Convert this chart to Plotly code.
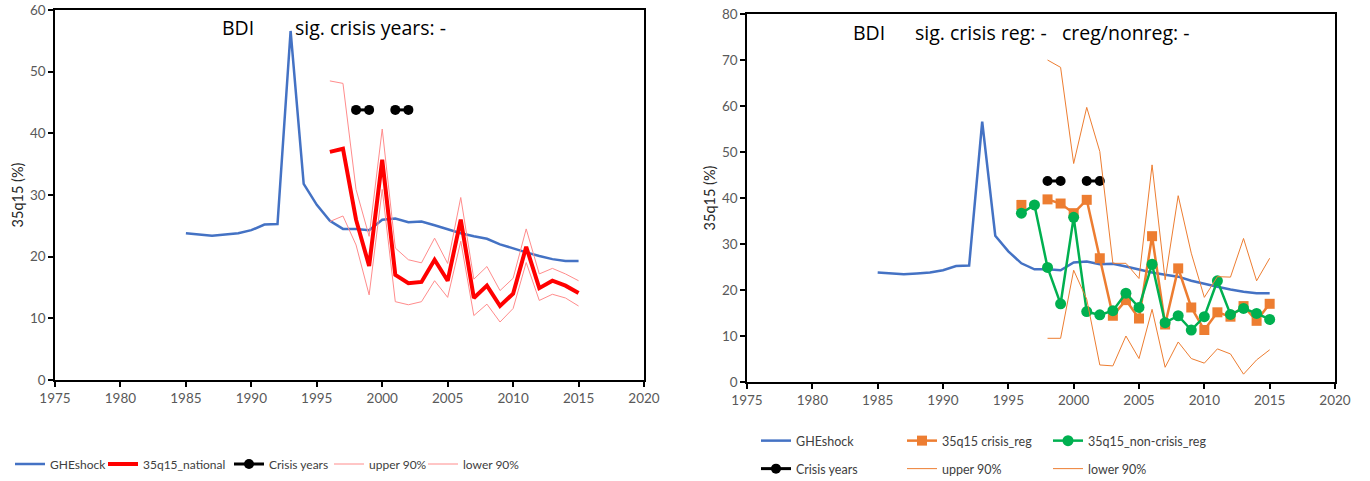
import plotly.graph_objects as go

# ---- data ----
years_ghe = list(range(1985, 2016))
ghe_shock = [23.8, 23.6, 23.4, 23.6, 23.8, 24.3, 25.2, 25.3, 56.6, 31.8, 28.4, 25.8,
             24.5, 24.5, 24.3, 26.0, 26.2, 25.6, 25.7, 25.1, 24.4, 23.8, 23.3, 22.9,
             22.0, 21.3, 20.7, 20.1, 19.6, 19.3, 19.3]

years_est = list(range(1996, 2016))
national = [37.0, 37.5, 26.0, 18.5, 35.7, 17.05, 15.7, 15.9, 19.5, 16.1,
            26.0, 13.3, 15.3, 12.0, 14.0, 21.6, 14.9, 16.1, 15.3, 14.1]
national_upper = [48.5, 48.1, 30.9, 23.3, 40.7, 21.4, 19.5, 19.0, 23.0, 18.9,
                  29.6, 16.35, 18.4, 14.5, 16.5, 24.5, 17.2, 18.1, 17.2, 16.1]
national_lower = [25.7, 26.6, 21.9, 13.8, 30.9, 12.7, 12.2, 12.7, 16.1, 13.4,
                  22.5, 10.45, 12.3, 9.4, 11.6, 19.05, 12.9, 13.9, 13.3, 12.0]

crisis_reg = [38.5, None, 39.7, 38.8, 36.7, 39.6, 26.9, 14.4, 17.8, 13.8,
              31.7, 12.5, 24.7, 16.2, 11.3, 15.15, 14.2, 16.5, 13.3, 17.0]
noncrisis_reg = [36.7, 38.5, 24.9, 17.0, 35.8, 15.3, 14.6, 15.5, 19.3, 16.2,
                 25.6, 12.9, 14.4, 11.3, 14.2, 22.0, 14.7, 16.0, 14.9, 13.6]

years_ci_reg = list(range(1998, 2016))
reg_upper = [70.0, 68.4, 47.5, 59.7, 50.1, 25.8, 25.8, 22.5, 47.2, 22.2,
             40.5, 28.0, 18.4, 22.9, 22.8, 31.2, 22.0, 26.9]
reg_lower = [9.5, 9.5, 24.3, 18.0, 3.7, 3.5, 10.0, 5.1, 15.8, 3.2,
             8.7, 5.1, 4.1, 7.2, 6.1, 1.7, 4.8, 7.0]

crisis_years = [1998, 1999, None, 2001, 2002]
crisis_marker_left = [43.8, 43.8, None, 43.8, 43.8]
crisis_marker_right = [43.7, 43.7, None, 43.7, 43.7]

x_ticks = list(range(1975, 2021, 5))

# ---- styles ----
FONT = "Lato"
TITLE_FONT = "Open Sans"
BLUE = "#4472C4"
RED = "#FF0000"
PINK = "#FF8C8C"
ORANGE = "#ED7D31"
GREEN = "#00B050"
TICK_COLOR = "#595959"

fig = go.Figure()

# left panel
fig.add_trace(go.Scatter(x=years_ghe, y=ghe_shock, mode="lines", name="GHEshock",
                         line=dict(color=BLUE, width=2.5), xaxis="x", yaxis="y",
                         legend="legend", legendwidth=48))
fig.add_trace(go.Scatter(x=years_est, y=national, mode="lines", name="35q15_national",
                         line=dict(color=RED, width=4), xaxis="x", yaxis="y",
                         legend="legend", legendwidth=81))
fig.add_trace(go.Scatter(x=crisis_years, y=crisis_marker_left, mode="lines+markers",
                         name="Crisis years", line=dict(color="black", width=3),
                         marker=dict(color="black", size=10), xaxis="x", yaxis="y",
                         legend="legend", legendwidth=55))
fig.add_trace(go.Scatter(x=years_est, y=national_upper, mode="lines", name="upper 90%",
                         line=dict(color=PINK, width=1), xaxis="x", yaxis="y",
                         legend="legend", legendwidth=49))
fig.add_trace(go.Scatter(x=years_est, y=national_lower, mode="lines", name="lower 90%",
                         line=dict(color=PINK, width=1), xaxis="x", yaxis="y",
                         legend="legend", legendwidth=54))

# right panel
fig.add_trace(go.Scatter(x=years_ghe, y=ghe_shock, mode="lines", name="GHEshock",
                         line=dict(color=BLUE, width=2.5), xaxis="x2", yaxis="y2",
                         legend="legend2", legendwidth=101))
fig.add_trace(go.Scatter(x=years_est, y=crisis_reg, mode="lines+markers",
                         name="35q15 crisis_reg", line=dict(color=ORANGE, width=2.5),
                         marker=dict(color=ORANGE, size=10, symbol="square"),
                         xaxis="x2", yaxis="y2", legend="legend2", legendwidth=101))
fig.add_trace(go.Scatter(x=years_est, y=noncrisis_reg, mode="lines+markers",
                         name="35q15_non-crisis_reg", line=dict(color=GREEN, width=2.5),
                         marker=dict(color=GREEN, size=11), xaxis="x2", yaxis="y2",
                         legend="legend2", legendwidth=120))
fig.add_trace(go.Scatter(x=crisis_years, y=crisis_marker_right, mode="lines+markers",
                         name="Crisis years", line=dict(color="black", width=3),
                         marker=dict(color="black", size=10), xaxis="x2", yaxis="y2",
                         legend="legend3", legendwidth=101))
fig.add_trace(go.Scatter(x=years_ci_reg, y=reg_upper, mode="lines", name="upper 90%",
                         line=dict(color=ORANGE, width=1), xaxis="x2", yaxis="y2",
                         legend="legend3", legendwidth=101))
fig.add_trace(go.Scatter(x=years_ci_reg, y=reg_lower, mode="lines", name="lower 90%",
                         line=dict(color=ORANGE, width=1), xaxis="x2", yaxis="y2",
                         legend="legend3", legendwidth=101))

axis_common = dict(showgrid=False, zeroline=False, showline=True, linecolor="black",
                   linewidth=1.5, mirror=True, ticks="outside", ticklen=5,
                   tickcolor="black", tickwidth=1.5, automargin=False,
                   tickfont=dict(family=FONT, size=13.5, color=TICK_COLOR))

W, H = 1370, 481

legend_common = dict(orientation="h", bgcolor="rgba(0,0,0,0)", borderwidth=0,
                     yanchor="middle", tracegroupgap=0)
legend_font_left = dict(family=FONT, size=12, color="#404040")
legend_font_right = dict(family=FONT, size=12.5, color="#404040")

title_font = dict(family=TITLE_FONT, size=19.5, color="black")

fig.update_layout(
    width=W, height=H,
    margin=dict(l=0, r=0, t=0, b=0, autoexpand=False),
    paper_bgcolor="white", plot_bgcolor="white",
    font=dict(family=FONT, color="#404040"),
    xaxis=dict(domain=[55 / W, 644 / W], range=[1975, 2020], tickvals=x_ticks,
               anchor="y", **axis_common),
    yaxis=dict(domain=[1 - 380 / H, 1 - 10 / H], range=[0, 60], dtick=10, anchor="x",
               title=dict(text="35q15 (%)", font=dict(family=FONT, size=14.5, color="#262626"),
                          standoff=3),
               **axis_common),
    xaxis2=dict(domain=[747 / W, 1335 / W], range=[1975, 2020], tickvals=x_ticks,
                anchor="y2", **axis_common),
    yaxis2=dict(domain=[1 - 382 / H, 1 - 14 / H], range=[0, 80], dtick=10, anchor="x2",
                title=dict(text="35q15 (%)", font=dict(family=FONT, size=14.5, color="#262626"),
                           standoff=3),
                **axis_common),
    legend=dict(x=266 / W, xanchor="center", y=1 - 464 / H, font=legend_font_left,
                **legend_common),
    legend2=dict(x=756 / W, xanchor="left", y=1 - 441 / H, font=legend_font_right,
                 **legend_common),
    legend3=dict(x=756 / W, xanchor="left", y=1 - 469 / H, font=legend_font_right,
                 **legend_common),
    annotations=[
        dict(text="BDI", x=220 / W, y=1 - 27 / H, xref="paper", yref="paper",
             xanchor="left", yanchor="middle", showarrow=False, font=title_font),
        dict(text="sig. crisis years: -", x=293 / W, y=1 - 27 / H, xref="paper",
             yref="paper", xanchor="left", yanchor="middle", showarrow=False,
             font=title_font),
        dict(text="BDI", x=851 / W, y=1 - 32 / H, xref="paper", yref="paper",
             xanchor="left", yanchor="middle", showarrow=False, font=title_font),
        dict(text="sig. crisis reg: -\u00a0\u00a0 creg/nonreg: -", x=913 / W, y=1 - 32 / H,
             xref="paper", yref="paper", xanchor="left", yanchor="middle",
             showarrow=False, font=title_font),
    ],
)

fig.write_html("out.html")
